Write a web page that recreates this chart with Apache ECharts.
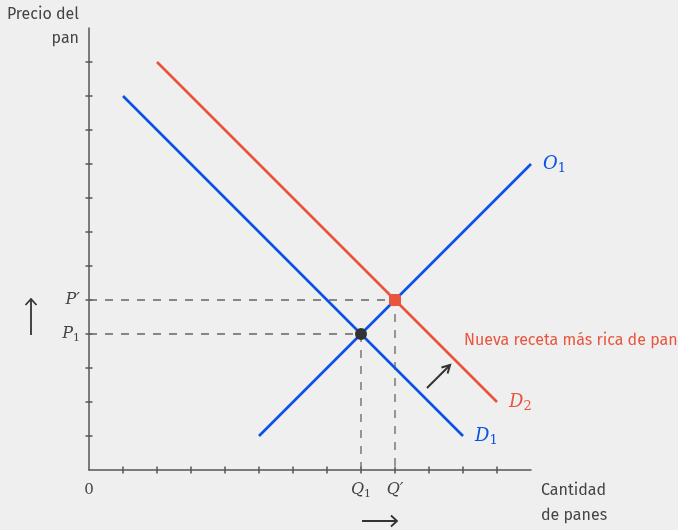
<!DOCTYPE html>
<html><head><meta charset="utf-8">
<script src="https://cdn.jsdelivr.net/npm/echarts@6/dist/echarts.min.js"></script>
<style>html,body{margin:0;padding:0;background:#efefef;}#c{width:678px;height:530px;}</style>
</head><body><div id="c"></div>
<script>
// ---- data ----
const demandD1 = [[1, 11], [11, 1]];
const demandD2 = [[2, 12], [12, 2]];
const supplyO1 = [[5, 1], [13, 9]];
const equilibrium1 = [8, 4];
const equilibrium2 = [9, 5];
const tickValues = [1, 2, 3, 4, 5, 6, 7, 8, 9, 10, 11, 12];
const xLabelValues = [0, 8, 9];
const xLabelTexts = ['{n|0}', '{i|Q}{s|1}', '{i|Q′}'];
const yLabelValues = [4, 5];
const yLabelTexts = ['{i|P}{s|1}', '{i|P′}'];
const shiftArrow = [[9.94, 2.41], [10.62, 3.09]];
const noteText = 'Nueva receta más rica de pan';
const notePos = [11, 3.8];

const BLUE = '#0a52e3', RED = '#e8553e', GRAY = '#444', AX = '#555';
const sans = '"Fira Sans","Open Sans","Noto Sans",sans-serif';
const serif = '"DejaVu Serif","Liberation Serif",serif';
const rich = {
  n: {fontFamily: serif, fontSize: 15, color: GRAY, lineHeight: 20},
  i: {fontFamily: serif, fontStyle: 'italic', fontSize: 16, color: GRAY, lineHeight: 20},
  s: {fontFamily: serif, fontSize: 11, color: GRAY, lineHeight: 13, verticalAlign: 'bottom', padding: [6, 0, 0, 0]}
};
function lineRich(color) {
  return {
    i: {fontFamily: serif, fontStyle: 'italic', fontSize: 18, color: color, lineHeight: 22},
    s: {fontFamily: serif, fontSize: 13, color: color, lineHeight: 15, verticalAlign: 'bottom', padding: [7, 0, 0, 0]}
  };
}
function endLab(text, color) {
  return {show: true, distance: 12, formatter: text, rich: lineRich(color)};
}

const chart = echarts.init(document.getElementById('c'));
const baseAxis = {min: 0, max: 13, interval: 1, splitLine: {show: false}};
const dashStyle = {color: '#666', width: 1.3, type: [8, 8]};
chart.setOption({
  backgroundColor: '#efefef',
  animation: false,
  grid: {left: 89, top: 28, width: 442, height: 442},
  xAxis: [
    Object.assign({}, baseAxis, {type: 'value', position: 'bottom',
      axisLine: {show: true, lineStyle: {color: AX, width: 1.5}},
      axisTick: {show: true, inside: false, length: 3.5, lineStyle: {color: AX, width: 1.5}, customValues: tickValues},
      axisLabel: {show: true, margin: 10, customValues: xLabelValues,
        formatter: v => xLabelTexts[xLabelValues.indexOf(v)], rich: rich}}),
    Object.assign({}, baseAxis, {type: 'value', position: 'bottom', offset: 0,
      axisLine: {show: false},
      axisTick: {show: true, inside: true, length: 3.5, lineStyle: {color: AX, width: 1.5}, customValues: tickValues},
      axisLabel: {show: false}})
  ],
  yAxis: [
    Object.assign({}, baseAxis, {type: 'value', position: 'left',
      axisLine: {show: true, lineStyle: {color: AX, width: 1.5}},
      axisTick: {show: true, inside: false, length: 3.5, lineStyle: {color: AX, width: 1.5}, customValues: tickValues},
      axisLabel: {show: true, margin: 9, customValues: yLabelValues,
        formatter: v => yLabelTexts[yLabelValues.indexOf(v)], rich: rich}}),
    Object.assign({}, baseAxis, {type: 'value', position: 'left', offset: 0,
      axisLine: {show: false},
      axisTick: {show: true, inside: true, length: 3.5, lineStyle: {color: AX, width: 1.5}, customValues: tickValues},
      axisLabel: {show: false}})
  ],
  series: [
    {type: 'line', data: [[0, equilibrium2[1]], equilibrium2, [equilibrium2[0], 0]], symbol: 'none',
      lineStyle: dashStyle, z: 1},
    {type: 'line', data: [[0, equilibrium1[1]], equilibrium1, [equilibrium1[0], 0]], symbol: 'none',
      lineStyle: dashStyle, z: 1},
    {type: 'line', data: demandD1, symbol: 'none', endLabel: endLab('{i|D}{s|1}', BLUE),
      lineStyle: {color: BLUE, width: 2.6}, z: 2},
    {type: 'line', data: demandD2, symbol: 'none', endLabel: endLab('{i|D}{s|2}', RED),
      lineStyle: {color: RED, width: 2.6}, z: 2},
    {type: 'line', data: supplyO1, symbol: 'none', endLabel: endLab('{i|O}{s|1}', BLUE),
      lineStyle: {color: BLUE, width: 2.6}, z: 2},
    {type: 'scatter', data: [equilibrium1], symbol: 'circle', symbolSize: 12, itemStyle: {color: '#333', opacity: 1}, z: 5},
    {type: 'scatter', data: [equilibrium2], symbol: 'roundRect', symbolSize: 12, itemStyle: {color: RED, opacity: 1}, z: 5},
    {type: 'scatter', data: [notePos], symbolSize: 2, itemStyle: {color: 'rgba(0,0,0,0)', opacity: 1}, z: 6,
      label: {show: true, position: 'right', distance: 0, formatter: noteText, color: RED, opacity: 1, fontFamily: sans, fontSize: 16}},
    {type: 'custom', clip: false, z: 6, data: [0],
      renderItem: function (params, api) {
        const a = api.coord(shiftArrow[0]), b = api.coord(shiftArrow[1]);
        const ang = Math.atan2(b[1] - a[1], b[0] - a[0]);
        const h = 9, sp = 0.5;
        const p1 = [b[0] - h * Math.cos(ang - sp), b[1] - h * Math.sin(ang - sp)];
        const p2 = [b[0] - h * Math.cos(ang + sp), b[1] - h * Math.sin(ang + sp)];
        return {type: 'group', children: [
          {type: 'line', shape: {x1: a[0], y1: a[1], x2: b[0], y2: b[1]}, style: {stroke: '#333', lineWidth: 2}},
          {type: 'polyline', shape: {points: [p1, b, p2]}, style: {stroke: '#333', lineWidth: 2, fill: null}}
        ]};
      }}
  ],
  graphic: [
    {type: 'text', x: 79, y: 3, style: {text: 'Precio del\npan', align: 'right', fill: GRAY, font: '16px ' + sans, lineHeight: 24}},
    {type: 'text', x: 541, y: 478, style: {text: 'Cantidad\nde panes', align: 'left', fill: GRAY, font: '16px ' + sans, lineHeight: 25}},
    {type: 'line', shape: {x1: 31, y1: 335, x2: 31, y2: 299}, style: {stroke: '#333', lineWidth: 1.8}},
    {type: 'polyline', shape: {points: [[25.5, 305], [31, 299], [36.5, 305]]}, style: {stroke: '#333', lineWidth: 1.8, fill: null}},
    {type: 'line', shape: {x1: 362, y1: 521, x2: 397, y2: 521}, style: {stroke: '#333', lineWidth: 1.8}},
    {type: 'polyline', shape: {points: [[391, 515.5], [397, 521], [391, 526.5]]}, style: {stroke: '#333', lineWidth: 1.8, fill: null}}
  ]
});
</script></body></html>
